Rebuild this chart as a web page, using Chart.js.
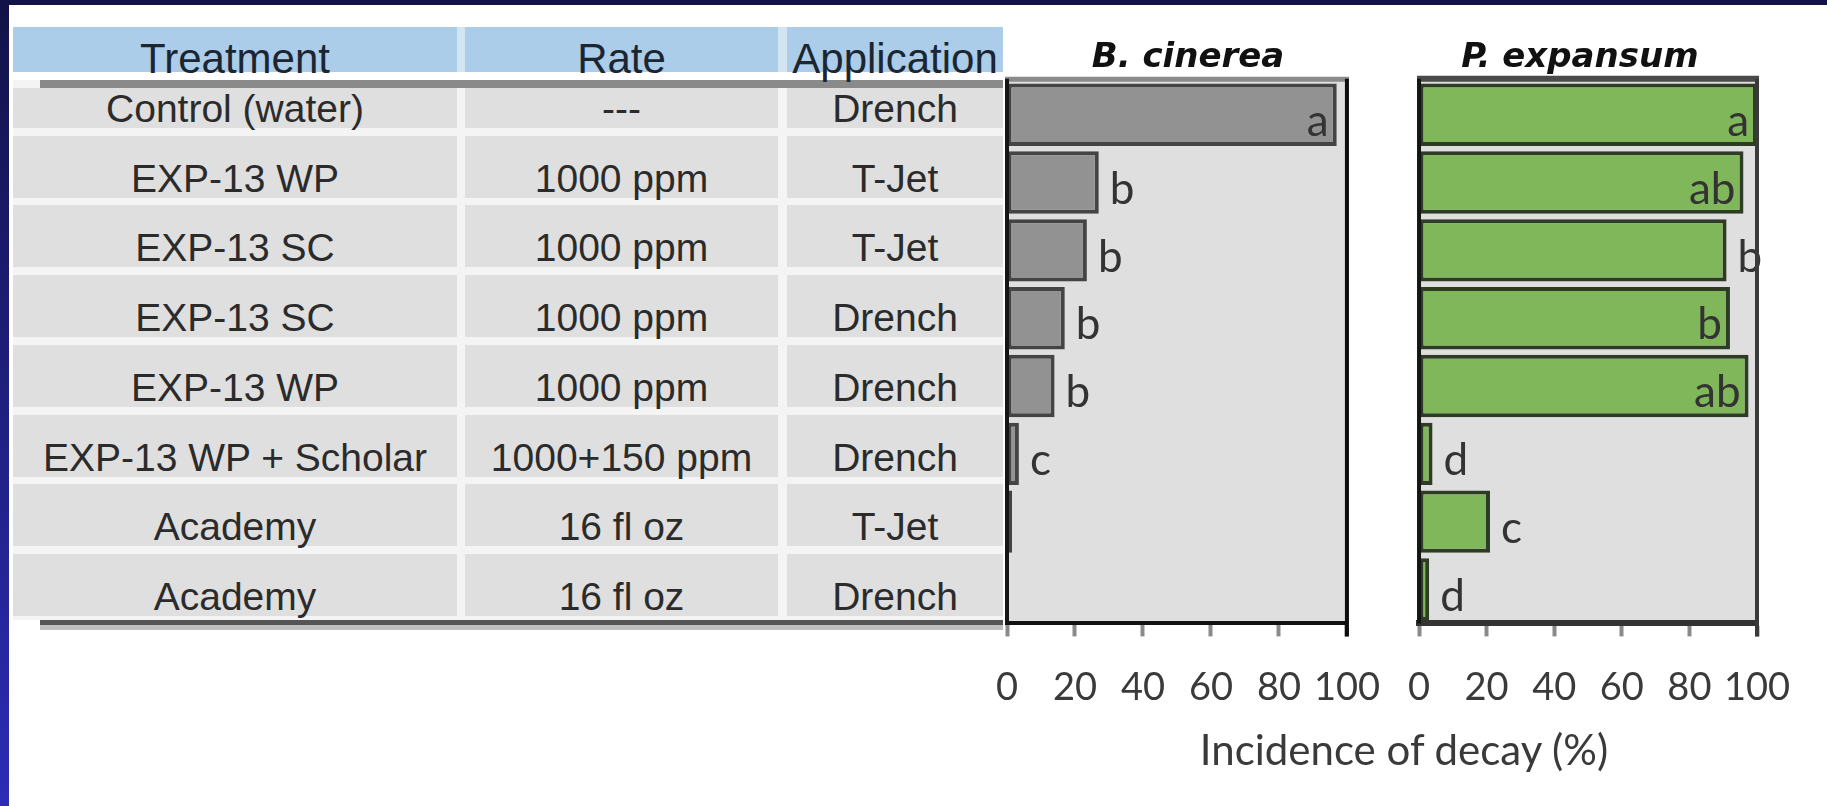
<!DOCTYPE html>
<html>
<head>
<meta charset="utf-8">
<title>Incidence of decay</title>
<script src="https://cdn.jsdelivr.net/npm/chart.js"></script>
<style>
  html, body { margin: 0; padding: 0; }
  body {
    width: 1827px; height: 806px; position: relative; overflow: hidden;
    background: #fff; font-family: "Liberation Sans", Arial, sans-serif;
  }
  .band-top { position: absolute; left: 0; top: 0; width: 1827px; height: 5px; background: #121248; }
  .band-left { position: absolute; left: 0; top: 0; width: 9px; height: 806px; background: linear-gradient(#121248, #2c2cb6); }
  .box { position: absolute; }
  .txt {
    position: absolute; text-align: center; white-space: nowrap; color: #2b2b2b;
    font-size: 39px; line-height: 39px; height: 39px;
  }
  .txt.head { font-size: 42px; line-height: 42px; height: 42px; color: #1c2630; }
  canvas { position: absolute; top: 0; }
  #axisTitle {
    position: absolute; left: 1104px; top: 728px; width: 600px; text-align: center;
    font-family: Lato, sans-serif; font-size: 42px; line-height: 42px; color: #3a3a3a;
  }
</style>
</head>
<body>
<div class="band-top"></div>
<div class="band-left"></div>
<div id="table"></div>
<canvas id="cinereaChart" width="443" height="740" style="left:966px"></canvas>
<canvas id="expansumChart" width="442" height="740" style="left:1379px"></canvas>
<div id="axisTitle">Incidence of decay (%)</div>

<script>
// table columns
const headers = ["Treatment", "Rate", "Application"];
const treatments = ["Control (water)", "EXP-13 WP", "EXP-13 SC", "EXP-13 SC", "EXP-13 WP",
  "EXP-13 WP + Scholar", "Academy", "Academy"];
const rates = ["---", "1000 ppm", "1000 ppm", "1000 ppm", "1000 ppm", "1000+150 ppm", "16 fl oz", "16 fl oz"];
const applications = ["Drench", "T-Jet", "T-Jet", "Drench", "Drench", "Drench", "T-Jet", "Drench"];

// incidence of decay (%) and mean separation letters
const cinereaValues = [97, 27, 23.5, 17, 14, 3.5, 1.5, 0];
const cinereaLetters = ["a", "b", "b", "b", "b", "c", "", ""];
const expansumValues = [100, 96, 91, 92, 97.5, 4, 21, 3];
const expansumLetters = ["a", "ab", "b", "b", "ab", "d", "c", "d"];
const xTicks = [0, 20, 40, 60, 80, 100];

// ---- table (html) ----
const table = document.getElementById("table");
const cols = [[13, 457], [465, 778], [787, 1003]];
const rowBottom = i => 128 + 69.7 * i;

function box(x, y, w, h, color) {
  const d = document.createElement("div");
  d.className = "box";
  d.style.cssText = `left:${x}px;top:${y}px;width:${w}px;height:${h}px;background:${color}`;
  table.appendChild(d);
}
function text(str, col, top, cls) {
  const d = document.createElement("div");
  d.className = "txt" + (cls ? " " + cls : "");
  d.style.left = col[0] + "px";
  d.style.width = (col[1] - col[0]) + "px";
  d.style.top = top + "px";
  d.textContent = str;
  table.appendChild(d);
}

box(13, 27, 990, 45, "#d3e4f3");
cols.forEach(c => box(c[0], 27, c[1] - c[0], 45, "#abcdea"));
box(13, 88, 990, 532, "#f4f4f4");
treatments.forEach((t, i) => {
  const bottom = rowBottom(i);
  const top = i === 0 ? 88 : bottom - 62;
  cols.forEach(c => box(c[0], top, c[1] - c[0], bottom - top, "#dfdfdf"));
});
box(13, 80, 990, 8, "#f4f4f4");
box(40, 80, 963, 8, "#8a8a8a");
box(40, 620, 963, 5, "#555");
box(40, 625, 963, 5, "#bdbdbd");

headers.forEach((h, j) => text(h, cols[j], 38, "head"));
treatments.forEach((t, i) => {
  const top = rowBottom(i) - 39;
  text(t, cols[0], top);
  text(rates[i], cols[1], top);
  text(applications[i], cols[2], top);
});

// ---- charts ----
const plotBackground = {
  id: "plotBackground",
  beforeDraw(chart, args, opts) {
    const a = chart.chartArea, ctx = chart.ctx;
    ctx.save();
    ctx.fillStyle = opts.color;
    ctx.fillRect(a.left, a.top, a.right - a.left, a.bottom - a.top);
    ctx.restore();
  }
};

const barLetters = {
  id: "barLetters",
  afterDatasetsDraw(chart, args, opts) {
    const ctx = chart.ctx;
    const meta = chart.getDatasetMeta(0);
    const values = chart.data.datasets[0].data;
    ctx.save();
    ctx.font = "44px Lato";
    ctx.fillStyle = "#333";
    ctx.textBaseline = "alphabetic";
    meta.data.forEach((bar, i) => {
      const letter = opts.letters[i];
      if (!letter) return;
      const y = bar.y + bar.height / 2 - 10;
      if (values[i] >= opts.insideFrom) {
        ctx.textAlign = "right";
        ctx.fillText(letter, bar.x - 8, y);
      } else {
        ctx.textAlign = "left";
        ctx.fillText(letter, bar.x + 11, y);
      }
    });
    ctx.restore();
  }
};

const plotFrame = {
  id: "plotFrame",
  afterDraw(chart, args, o) {
    const a = chart.chartArea, ctx = chart.ctx;
    const line = (x1, y1, x2, y2) => { ctx.beginPath(); ctx.moveTo(x1, y1); ctx.lineTo(x2, y2); ctx.stroke(); };
    ctx.save();
    ctx.strokeStyle = o.topColor;
    ctx.lineWidth = o.topWidth;
    line(a.left - 2, a.top - o.topWidth / 2 + 1, a.right + 2, a.top - o.topWidth / 2 + 1);
    ctx.strokeStyle = o.leftColor;
    ctx.lineWidth = 4;
    line(a.left, a.top - 2, a.left, a.bottom);
    ctx.strokeStyle = o.rightColor;
    line(a.right, a.top - 2, a.right, a.bottom + 13);
    ctx.restore();
  }
};

function makeChart(id, title, values, letters, look) {
  return new Chart(document.getElementById(id), {
    type: "bar",
    data: {
      labels: treatments,
      datasets: [{
        data: values,
        backgroundColor: look.fill,
        borderColor: look.edge,
        borderWidth: 4,
        borderSkipped: false,
        barPercentage: 0.92,
        categoryPercentage: 1
      }]
    },
    options: {
      indexAxis: "y",
      responsive: false,
      animation: false,
      // side padding also shifts the title a little off the plot centre, as in the slide
      layout: { padding: look.padding },
      plugins: {
        legend: { display: false },
        tooltip: { enabled: false },
        title: {
          display: true,
          text: title,
          color: "#111",
          font: { family: "DejaVu Sans", size: 34, weight: "bold", style: "italic" },
          padding: { top: 38, bottom: 2 }
        },
        plotBackground: { color: "#dfdfdf" },
        barLetters: { letters: letters, insideFrom: 92 },
        plotFrame: look.frame
      },
      scales: {
        y: { display: false },
        x: {
          min: 0,
          max: 100,
          afterBuildTicks: axis => { axis.ticks = xTicks.map(v => ({ value: v })); },
          ticks: { color: "#3a3a3a", padding: 29, autoSkip: false, maxRotation: 0, font: { family: "Lato", size: 38 } },
          grid: { drawOnChartArea: false, drawTicks: true, tickLength: 13, tickColor: "#8a8a8a", tickWidth: 4 },
          border: { display: true, color: look.bottomColor, width: look.bottomWidth }
        }
      }
    },
    plugins: [plotBackground, barLetters, plotFrame]
  });
}

makeChart("cinereaChart", "B. cinerea", cinereaValues, cinereaLetters, {
  fill: "#929292",
  edge: "#444",
  bottomColor: "#111",
  bottomWidth: 4,
  padding: { left: 41, right: 40, top: 0, bottom: 0 },
  frame: { topColor: "#8a8a8a", topWidth: 5, leftColor: "#151515", rightColor: "#0d0d0d" }
});

makeChart("expansumChart", "P. expansum", expansumValues, expansumLetters, {
  fill: "#80b75a",
  edge: "#2e3b25",
  bottomColor: "#333",
  bottomWidth: 6,
  padding: { left: 24, right: 64, top: 0, bottom: 0 },
  frame: { topColor: "#4a4a4a", topWidth: 6, leftColor: "#151515", rightColor: "#3a3a3a" }
});
</script>
</body>
</html>
